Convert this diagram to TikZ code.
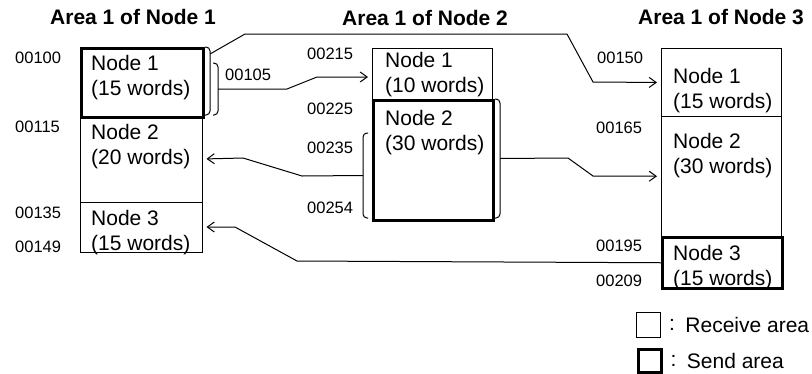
\documentclass[tikz,border=0pt]{standalone}
\usepackage{fontspec}
\setmainfont{Liberation Sans}
\usetikzlibrary{arrows.meta,positioning}

\begin{document}
\begin{tikzpicture}[
    x=1pt, y=-1pt,
    box/.style={draw=black, rectangle, inner sep=0pt, anchor=north west, line width=1pt},
    recv/.style={box},
    send/.style={box, line width=3pt},
    txt/.style={inner sep=0pt, align=left, font=\fontsize{21}{25}\selectfont},
    addr/.style={inner sep=0pt, anchor=west, font=\fontsize{16.5}{18}\selectfont},
    head/.style={inner sep=0pt, anchor=west, font=\fontsize{21}{24}\selectfont\bfseries},
    link/.style={-{Straight Barb[length=7pt,width=10pt]}, line width=1pt, shorten >=4pt},
    brk/.style={line width=1pt, rounded corners=4pt},
]
\useasboundingbox (0,0) rectangle (812,373);
\node[head] (h1) at (50,17) {Area 1 of Node 1};
\node[head] (h2) at (342,17.5) {Area 1 of Node 2};
\node[head] (h3) at (638,17) {Area 1 of Node 3};
\node[send, minimum width=121.5pt, minimum height=68.5pt] (a1n1) at (80,47) {};
\node[recv, minimum width=121.5pt, minimum height=86pt] (a1n2) at (80,115.5) {};
\node[recv, minimum width=121.5pt, minimum height=50pt] (a1n3) at (80,201.5) {};
\node[recv, minimum width=120pt, minimum height=51pt] (a2n1) at (372,47.5) {};
\node[send, minimum width=120pt, minimum height=120pt] (a2n2) at (372,98.5) {};
\node[recv, minimum width=119.5pt, minimum height=68pt] (a3n1) at (661,48) {};
\node[recv, minimum width=119.5pt, minimum height=119.5pt] (a3n2) at (661,116) {};
\node[send, minimum width=119.5pt, minimum height=51.5pt] (a3n3) at (661,235.5) {};
\node[txt, below right=8pt and 11pt of a1n1.north west] (t11) {Node 1\\(15 words)};
\node[txt, below right=8.5pt and 11pt of a1n2.north west] (t12) {Node 2\\(20 words)};
\node[txt, below right=8.5pt and 11pt of a1n3.north west] (t13) {Node 3\\(15 words)};
\node[txt, below right=4.5pt and 13pt of a2n1.north west] (t21) {Node 1\\(10 words)};
\node[txt, below right=11.5pt and 13pt of a2n2.north west] (t22) {Node 2\\(30 words)};
\node[txt, below right=20pt and 12pt of a3n1.north west] (t31) {Node 1\\(15 words)};
\node[txt, below right=17pt and 12pt of a3n2.north west] (t32) {Node 2\\(30 words)};
\node[txt, below right=9.5pt and 12pt of a3n3.north west] (t33) {Node 3\\(15 words)};
\node[addr] (p100) at (15,57.5) {00100};
\node[addr] (p115) at (15,127) {00115};
\node[addr] (p135) at (15,212.5) {00135};
\node[addr] (p149) at (15,247) {00149};
\node[addr] (p105) at (225,75) {00105};
\node[addr] (p215) at (307,54) {00215};
\node[addr] (p225) at (307,109) {00225};
\node[addr] (p235) at (307,147.5) {00235};
\node[addr] (p254) at (307,207.5) {00254};
\node[addr] (p150) at (597,57.5) {00150};
\node[addr] (p165) at (596,127.5) {00165};
\node[addr] (p195) at (596,246) {00195};
\node[addr] (p209) at (596,281) {00209};
% brackets
\draw[brk] (205,47) -- (210,47) -- (210,115) -- (205,115);
\draw[brk] (213,63) -- (218,63) -- (218,115) -- (213,115);
\draw[brk] (368,133) -- (363,133) -- (363,218) -- (368,218);
\draw[brk] (495,99) -- (500,99) -- (500,218) -- (495,218);
\coordinate (b1m) at (210,54);
\coordinate (b2m) at (218,89);
\coordinate (b3m) at (363,175.5);
\coordinate (b4m) at (500,158.5);
% transfers
\draw[link] (b1m) -- (245,34) -- (567,34) -- (593,82) -- (a3n1.west);
\draw[link] (b2m) -- (287,89) -- (317,77) coordinate (k2) -- (k2 -| a2n1.west);
\draw[link] (b3m) -- (302,176) -- (243,158) -- (a1n2.east);
\draw[link] (b4m) -- (568,158) -- (593,176) -- (a3n2.west);
\draw[link] (a3n3.west) -- (297,261) -- (235,227) -- (a1n3.east);
% legend
\node[recv, minimum width=24pt, minimum height=25pt] (lr) at (636,312) {};
\node[send, minimum width=23pt, minimum height=23pt] (ls) at (636.5,347.5) {};
\node[txt, right=8pt of lr] (lrc) {:};
\node[txt, right=10pt of lrc] (lrt) {Receive area};
\node[txt, right=8pt of ls] (lsc) {:};
\node[txt, right=10pt of lsc] (lst) {Send area};
\end{tikzpicture}
\end{document}
